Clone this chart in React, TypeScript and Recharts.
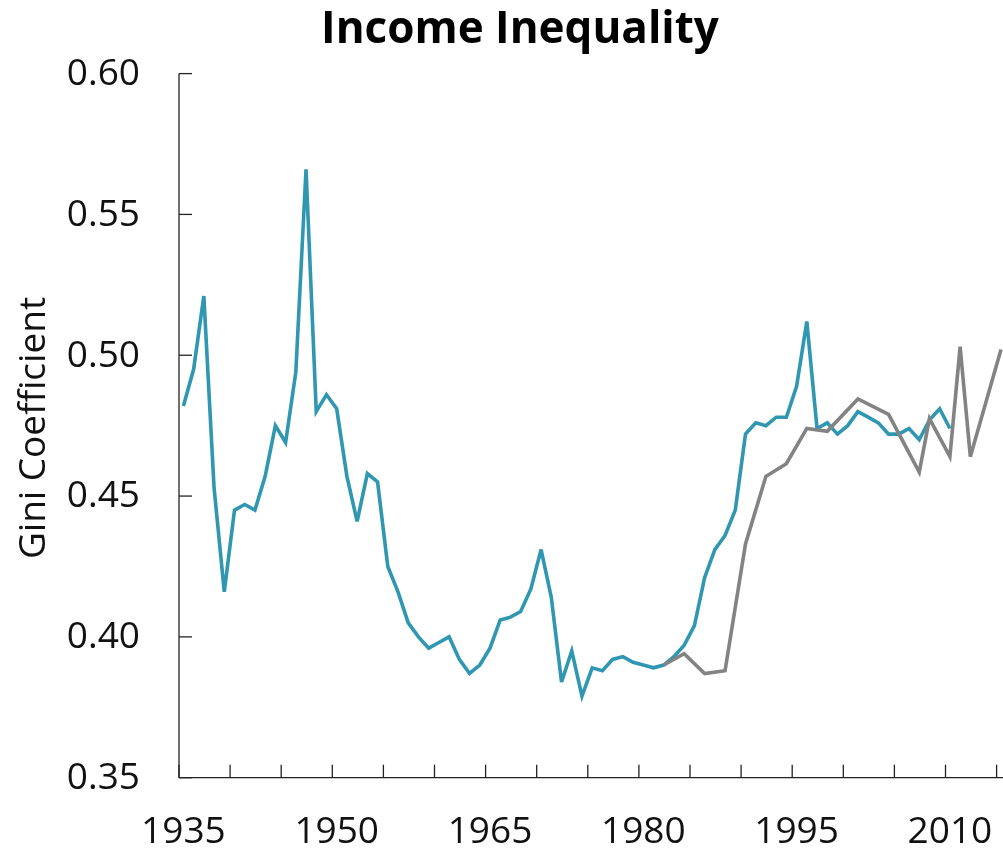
import React from 'react';
import { LineChart, Line, XAxis, YAxis } from 'recharts';

// ---- Data ----
const blueYears = [
  1935, 1936, 1937, 1938, 1939, 1940, 1941, 1942, 1943, 1944,
  1945, 1946, 1947, 1948, 1949, 1950, 1951, 1952, 1953, 1954,
  1955, 1956, 1957, 1958, 1959, 1960, 1961, 1962, 1963, 1964,
  1965, 1966, 1967, 1968, 1969, 1970, 1971, 1972, 1973, 1974,
  1975, 1976, 1977, 1978, 1979, 1980, 1981, 1982, 1983, 1984,
  1985, 1986, 1987, 1988, 1989, 1990, 1991, 1992, 1993, 1994,
  1995, 1996, 1997, 1998, 1999, 2000, 2001, 2002, 2003, 2004,
  2005, 2006, 2007, 2008, 2009, 2010,
];
const blueValues = [
  0.482, 0.495, 0.521, 0.453, 0.416, 0.445, 0.447, 0.445, 0.457, 0.475,
  0.469, 0.494, 0.566, 0.480, 0.486, 0.481, 0.457, 0.441, 0.458, 0.455,
  0.425, 0.416, 0.405, 0.400, 0.396, 0.398, 0.400, 0.392, 0.387, 0.390,
  0.396, 0.406, 0.407, 0.409, 0.417, 0.431, 0.414, 0.384, 0.395, 0.379,
  0.389, 0.388, 0.392, 0.393, 0.391, 0.390, 0.389, 0.390, 0.393, 0.397,
  0.404, 0.421, 0.431, 0.436, 0.445, 0.472, 0.476, 0.475, 0.478, 0.478,
  0.489, 0.512, 0.474, 0.476, 0.472, 0.475, 0.480, 0.478, 0.476, 0.472,
  0.472, 0.474, 0.470, 0.477, 0.481, 0.474,
];
const grayYears = [
  1982, 1984, 1986, 1988, 1990, 1992, 1994, 1996, 1998, 2001,
  2004, 2007, 2008, 2010, 2011, 2012, 2015,
];
const grayValues = [
  0.390, 0.394, 0.387, 0.388, 0.433, 0.457, 0.4615, 0.474, 0.473, 0.4845,
  0.479, 0.4585, 0.4775, 0.464, 0.503, 0.464, 0.502,
];
const yTicks = [0.35, 0.4, 0.45, 0.5, 0.55, 0.6];
const xTickMarks = [
  1935, 1940, 1945, 1950, 1955, 1960, 1965, 1970, 1975,
  1980, 1985, 1990, 1995, 2000, 2005, 2010, 2015,
];
const xTickLabels = [1935, 1950, 1965, 1980, 1995, 2010];

const blueData = blueYears.map((year, i) => ({ year, gini: blueValues[i] }));
const grayData = grayYears.map((year, i) => ({ year, gini: grayValues[i] }));

// ---- Layout (page coordinates; container fixed at the page origin) ----
const W = 1003;
const H = 880;
const FONT = "'Open Sans', 'Noto Sans', sans-serif";
const PX_PER_YEAR = 10.22;
const PLOT_LEFT = 179;
const PLOT_W = W - PLOT_LEFT;
const X_MIN = 1935;
const X_MAX = X_MIN + PLOT_W / PX_PER_YEAR;
const SHIFT = 0.43; // data points sit slightly right of tick marks
const AXIS = '#222';

const XTick = (props: any) => {
  const { x, y, payload } = props;
  if (!xTickLabels.includes(payload.value)) return <g />;
  return (
    <text x={x + 4.4} y={y} dy={26.3} textAnchor="middle" fontSize={37} fontFamily={FONT} fill="#111">
      {payload.value}
    </text>
  );
};

const YTick = (props: any) => {
  const { x, y, payload } = props;
  return (
    <text x={x} y={y} dy={11.4} textAnchor="end" fontSize={37} fontFamily={FONT} fill="#111">
      {Number(payload.value).toFixed(2)}
    </text>
  );
};

const GiniLabel = () => (
  <text transform="translate(45,428) rotate(-90)" textAnchor="middle" fontSize={37} fontFamily={FONT} fill="#111">
    Gini Coefficient
  </text>
);

export default function App() {
  return (
    <div style={{ position: 'fixed', left: 0, top: 0, width: W, height: H, overflow: 'visible' }}>
      <LineChart width={W} height={H} margin={{ top: 73.6, right: 0, bottom: 42.3, left: 59 }}>
        <XAxis
          xAxisId="marks"
          type="number"
          dataKey="year"
          domain={[X_MIN, X_MAX]}
          allowDataOverflow
          ticks={xTickMarks}
          interval={0}
          tickSize={-13}
          tickMargin={52.3}
          tick={<XTick />}
          axisLine={{ stroke: AXIS, strokeWidth: 1.3 }}
          tickLine={{ stroke: AXIS, strokeWidth: 1.3 }}
          height={60}
        />
        <XAxis
          xAxisId="data"
          type="number"
          dataKey="year"
          domain={[X_MIN - SHIFT, X_MAX - SHIFT]}
          allowDataOverflow
          hide
          height={0}
        />
        <YAxis
          type="number"
          domain={[0.35, 0.6]}
          allowDataOverflow
          ticks={yTicks}
          interval={0}
          width={120}
          tickSize={-13}
          tickMargin={52}
          tick={<YTick />}
          axisLine={{ stroke: AXIS, strokeWidth: 1.3 }}
          tickLine={{ stroke: AXIS, strokeWidth: 1.3 }}
          label={<GiniLabel />}
        />
        <Line
          xAxisId="data"
          data={blueData}
          dataKey="gini"
          type="linear"
          stroke="#2f97b1"
          strokeWidth={3.6}
          dot={false}
          activeDot={false}
          isAnimationActive={false}
        />
        <Line
          xAxisId="data"
          data={grayData}
          dataKey="gini"
          type="linear"
          stroke="#838383"
          strokeWidth={3.6}
          dot={false}
          activeDot={false}
          isAnimationActive={false}
        />
      </LineChart>
      <div
        style={{
          position: 'absolute',
          left: 120,
          top: 4.2,
          width: 800,
          textAlign: 'center',
          fontFamily: FONT,
          fontSize: 44,
          fontWeight: 700,
          lineHeight: '44px',
          color: '#000',
          pointerEvents: 'none',
        }}
      >
        Income Inequality
      </div>
    </div>
  );
}
